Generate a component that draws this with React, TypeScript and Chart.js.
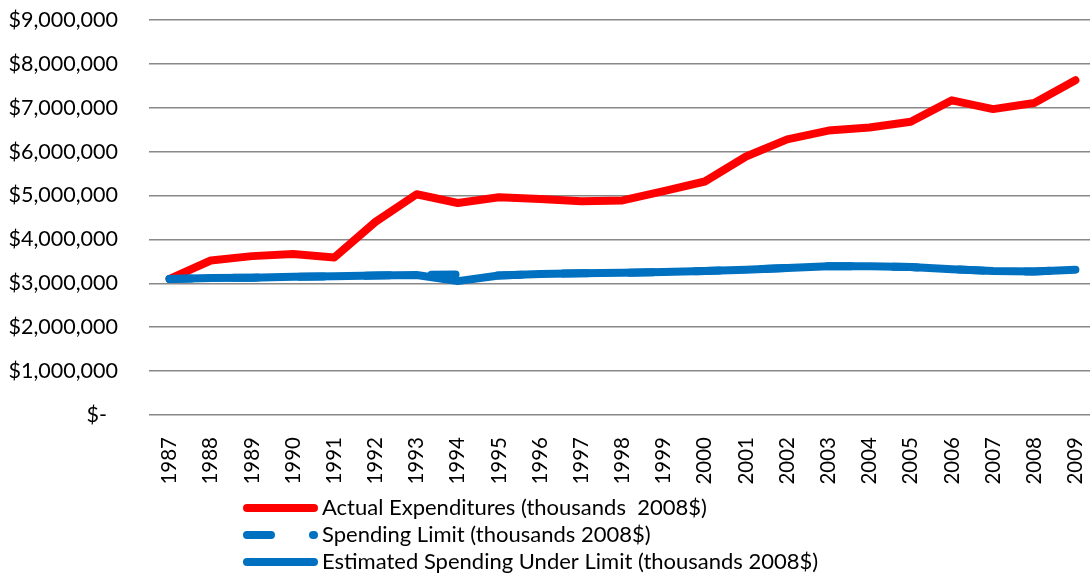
import React, { useEffect, useRef } from "react";
import { Chart, registerables } from "chart.js";

Chart.register(...registerables);

const years = [
  "1987", "1988", "1989", "1990", "1991", "1992", "1993", "1994", "1995", "1996", "1997", "1998",
  "1999", "2000", "2001", "2002", "2003", "2004", "2005", "2006", "2007", "2008", "2009",
];

const actualExpenditures = [
  3100000, 3520000, 3620000, 3670000, 3590000, 4400000, 5030000, 4830000, 4960000, 4920000, 4870000, 4890000,
  5100000, 5320000, 5890000, 6280000, 6480000, 6550000, 6680000, 7170000, 6970000, 7110000, 7630000,
];

const spendingLimit = [
  3100000, 3120000, 3130000, 3150000, 3160000, 3180000, 3190000, 3200000, 3180000, 3210000, 3230000, 3240000,
  3260000, 3280000, 3310000, 3350000, 3390000, 3390000, 3370000, 3320000, 3280000, 3270000, 3310000,
];

const estimatedUnderLimit = [
  3100000, 3120000, 3130000, 3150000, 3160000, 3180000, 3190000, 3050000, 3180000, 3210000, 3230000, 3240000,
  3260000, 3280000, 3310000, 3350000, 3390000, 3390000, 3370000, 3320000, 3280000, 3270000, 3310000,
];

const seriesNames = [
  "Actual Expenditures (thousands  2008$)",
  "Spending Limit (thousands 2008$)",
  "Estimated Spending Under Limit (thousands 2008$)",
];

const RED = "#FF0000";
const BLUE = "#0070C0";
const FONT = "Lato, 'Open Sans', sans-serif";

const legendPlugin = {
  id: "customLegend",
  afterDraw(chart: any) {
    const ctx = chart.ctx;
    const rows = [508, 535, 562];
    const styles = [
      { color: RED, dash: [] as number[], width: 8 },
      { color: BLUE, dash: [24, 42], width: 8 },
      { color: BLUE, dash: [] as number[], width: 8 },
    ];
    ctx.save();
    styles.forEach((s, i) => {
      const y = rows[i];
      ctx.beginPath();
      ctx.strokeStyle = s.color;
      ctx.lineWidth = s.width;
      ctx.lineCap = "round";
      ctx.setLineDash(s.dash);
      ctx.moveTo(247, y);
      ctx.lineTo(314, y);
      ctx.stroke();
      ctx.setLineDash([]);
      ctx.fillStyle = "#000";
      ctx.font = `22px ${FONT}`;
      ctx.textAlign = "left";
      ctx.textBaseline = "middle";
      ctx.fillText(seriesNames[i], 322, y);
    });
    ctx.restore();
  },
};

export default function App() {
  const ref = useRef<HTMLCanvasElement | null>(null);

  useEffect(() => {
    document.body.style.margin = "0";
    const canvas = ref.current;
    if (!canvas) return;
    const chart = new Chart(canvas, {
      type: "line",
      data: {
        labels: years,
        datasets: [
          {
            label: seriesNames[0],
            data: actualExpenditures,
            borderColor: RED,
            backgroundColor: RED,
            borderWidth: 8,
            pointRadius: 0,
            tension: 0,
            borderCapStyle: "round",
            borderJoinStyle: "round",
            order: 3,
          },
          {
            label: seriesNames[1],
            data: spendingLimit,
            borderColor: BLUE,
            backgroundColor: BLUE,
            borderWidth: 8,
            borderDash: [24, 42],
            borderDashOffset: 2,
            pointRadius: 0,
            tension: 0,
            borderCapStyle: "round",
            borderJoinStyle: "round",
            order: 2,
          },
          {
            label: seriesNames[2],
            data: estimatedUnderLimit,
            borderColor: BLUE,
            backgroundColor: BLUE,
            borderWidth: 8,
            pointRadius: 0,
            tension: 0,
            borderCapStyle: "round",
            borderJoinStyle: "round",
            order: 1,
          },
        ],
      },
      options: {
        responsive: false,
        animation: false,
        devicePixelRatio: 1,
        layout: { padding: { top: 20, left: 0, right: 0, bottom: 0 } },
        plugins: {
          legend: { display: false },
          tooltip: { enabled: false },
        },
        scales: {
          x: {
            offset: true,
            grid: { display: false, drawTicks: false },
            border: { display: false },
            ticks: {
              color: "#000",
              font: { family: FONT, size: 20.5 },
              maxRotation: 90,
              minRotation: 90,
              padding: 22,
              autoSkip: false,
            },
            afterFit: (scale: any) => {
              scale.height = 160;
              scale.paddingLeft = 0;
              scale.paddingRight = 0;
            },
          },
          y: {
            min: 0,
            max: 9000000,
            grid: { color: "#888888", lineWidth: 1.5, drawTicks: false },
            border: { display: false },
            ticks: {
              stepSize: 1000000,
              color: "#000",
              font: { family: FONT, size: 21.5 },
              padding: 31,
              callback: (v: any) =>
                Number(v) === 0 ? "$-  " : "$" + Number(v).toLocaleString("en-US"),
            },
            afterFit: (scale: any) => {
              scale.width = 149;
              scale.paddingTop = 0;
              scale.paddingBottom = 0;
            },
          },
        },
      },
      plugins: [legendPlugin],
    });
    return () => chart.destroy();
  }, []);

  return (
    <div
      style={{
        position: "fixed",
        left: 0,
        top: 0,
        width: 1090,
        height: 575,
        overflow: "hidden",
        background: "#fff",
      }}
    >
      <canvas ref={ref} width={1096} height={575} style={{ display: "block" }} />
    </div>
  );
}
